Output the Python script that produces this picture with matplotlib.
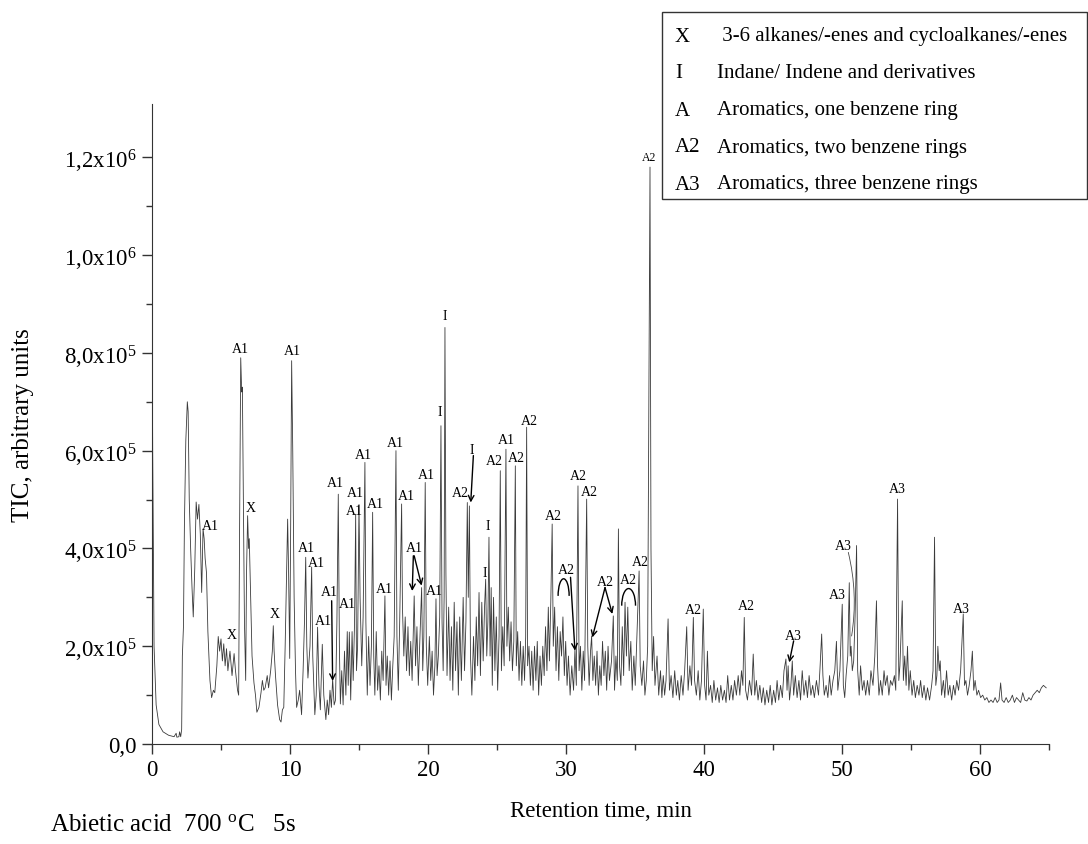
import numpy as np
import matplotlib.pyplot as plt
from matplotlib.patches import Arc, Rectangle

plt.rcParams['font.family'] = ['Liberation Serif', 'DejaVu Serif']
plt.rcParams['mathtext.default'] = 'regular'

# cromatograma: (tiempo min, TIC en unidades de 1e5)
tramo_0_6 = [(0.0, 9.3), (0.05, 6.0), (0.15, 2.0), (0.3, 0.8), (0.5, 0.4), (0.8, 0.25), (1.2, 0.18),
             (1.6, 0.15), (1.75, 0.22), (1.8, 0.14), (1.95, 0.15), (2.0, 0.25), (2.08, 0.15), (2.15, 0.3),
             (2.2, 1.8), (2.28, 2.4), (2.35, 4.5), (2.45, 6.2), (2.56, 7.0), (2.62, 6.8), (2.7, 5.0),
             (2.8, 4.0), (2.9, 3.2), (2.99, 2.6), (3.1, 3.6), (3.2, 4.95), (3.3, 4.6), (3.4, 4.9),
             (3.5, 4.3), (3.6, 3.1), (3.7, 4.4), (3.78, 4.2), (3.85, 3.8), (3.95, 3.5), (4.05, 2.3),
             (4.2, 1.3), (4.32, 0.95), (4.45, 1.1), (4.55, 1.05), (4.7, 1.6), (4.8, 2.2), (4.9, 1.9),
             (5.0, 2.15), (5.1, 1.7), (5.2, 2.05), (5.3, 1.6), (5.4, 1.95), (5.5, 1.5), (5.65, 1.9),
             (5.8, 1.4), (5.95, 1.85), (6.05, 1.5), (6.2, 1.1), (6.28, 1.0)]
tramo_6_10 = [(6.35, 4.5), (6.43, 7.9), (6.5, 7.2), (6.55, 7.3), (6.62, 5.0), (6.7, 2.5), (6.79, 1.3),
              (6.85, 3.5), (6.93, 4.67), (7.0, 4.0), (7.05, 4.2), (7.15, 3.0), (7.25, 1.8), (7.39, 1.25),
              (7.5, 1.0), (7.6, 0.65), (7.75, 0.75), (7.9, 1.05), (8.0, 1.3), (8.1, 1.1), (8.2, 1.15),
              (8.35, 1.4), (8.45, 1.15), (8.6, 1.5), (8.72, 1.9), (8.79, 2.42), (8.85, 1.9), (8.95, 1.4),
              (9.1, 0.8), (9.25, 0.5), (9.35, 0.45), (9.45, 0.7), (9.55, 0.75), (9.65, 2.0), (9.75, 3.5),
              (9.83, 4.6), (9.9, 3.5), (9.98, 1.75), (10.05, 4.5), (10.12, 7.84), (10.2, 6.0), (10.3, 3.0),
              (10.4, 1.5), (10.48, 0.75)]
tramo_10_13 = [(10.6, 0.9), (10.7, 1.1), (10.84, 0.6), (10.95, 1.5), (11.05, 2.5), (11.14, 3.82), (11.22, 2.0),
               (11.3, 1.35), (11.45, 2.0), (11.57, 3.62), (11.65, 1.8), (11.8, 0.6), (11.9, 1.0), (12.0, 2.39),
               (12.1, 1.2), (12.2, 0.7), (12.34, 2.04), (12.45, 1.0), (12.6, 0.5), (12.7, 0.9), (12.8, 0.6),
               (12.9, 1.1), (13.0, 0.75), (13.09, 1.33), (13.2, 0.8), (13.3, 0.9), (13.4, 2.5), (13.5, 5.11),
               (13.58, 2.0), (13.65, 0.82)]
tramo_13_21 = [(13.75, 1.5), (13.85, 0.8), (13.95, 1.9), (14.05, 1.0), (14.15, 2.3), (14.22, 1.2), (14.3, 2.29),
               (14.4, 0.9), (14.5, 2.3), (14.58, 1.3), (14.68, 2.5), (14.76, 4.7), (14.82, 1.5), (14.9, 2.0),
               (15.0, 4.9), (15.08, 3.0), (15.2, 1.6), (15.3, 2.6), (15.43, 5.76), (15.5, 2.5), (15.6, 1.0),
               (15.7, 2.2), (15.8, 1.2), (15.9, 2.0), (15.99, 4.74), (16.07, 1.8), (16.15, 1.0), (16.25, 2.3),
               (16.35, 1.1), (16.45, 1.6), (16.55, 0.9), (16.65, 1.9), (16.75, 1.3), (16.88, 3.03), (16.96, 1.2),
               (17.05, 1.8), (17.15, 1.0), (17.25, 1.7), (17.35, 0.9), (17.45, 1.6), (17.55, 2.2), (17.68, 6.0),
               (17.75, 2.2), (17.85, 1.1), (17.95, 2.5), (18.09, 4.91), (18.15, 2.8), (18.25, 1.8), (18.35, 2.6),
               (18.45, 1.5), (18.55, 2.4), (18.65, 1.4), (18.75, 2.1), (18.85, 1.3), (19.0, 3.03), (19.1, 1.6),
               (19.2, 2.4), (19.3, 1.2), (19.42, 2.2), (19.54, 3.2), (19.62, 1.5), (19.7, 2.2), (19.8, 5.35),
               (19.88, 2.0), (19.98, 1.2), (20.1, 2.2), (20.2, 1.3), (20.3, 1.9), (20.4, 1.0), (20.5, 1.6),
               (20.58, 2.97), (20.66, 1.4), (20.75, 1.8), (20.85, 2.6), (20.94, 6.51), (21.02, 2.5), (21.1, 1.5),
               (21.17, 3.0), (21.23, 8.52), (21.3, 3.5), (21.38, 1.4)]
tramo_21_36 = [(21.5, 2.8), (21.6, 1.3), (21.7, 2.4), (21.8, 1.1), (21.9, 2.9), (22.0, 1.5), (22.1, 2.5),
               (22.2, 1.0), (22.3, 2.6), (22.42, 1.3), (22.55, 3.0), (22.65, 1.5), (22.75, 2.5), (22.85, 4.94),
               (22.92, 3.0), (23.0, 4.87), (23.08, 1.8), (23.18, 1.0), (23.3, 2.2), (23.4, 1.3), (23.5, 2.6),
               (23.6, 1.6), (23.7, 3.1), (23.8, 1.4), (23.9, 2.9), (24.0, 1.7), (24.1, 2.8), (24.18, 3.37),
               (24.26, 1.8), (24.34, 2.5), (24.42, 4.23), (24.5, 1.8), (24.58, 3.2), (24.66, 1.2), (24.75, 3.0),
               (24.85, 1.5), (24.95, 2.6), (25.05, 1.1), (25.15, 2.2), (25.24, 5.59), (25.32, 1.5), (25.42, 2.4),
               (25.52, 1.6), (25.65, 6.03), (25.72, 2.0), (25.82, 2.8), (25.92, 1.7), (26.02, 2.5), (26.12, 1.5),
               (26.22, 2.1), (26.33, 5.69), (26.4, 1.6), (26.5, 2.3), (26.6, 1.3), (26.7, 2.1), (26.8, 1.2),
               (26.9, 2.0), (27.0, 1.3), (27.08, 2.2), (27.15, 6.48), (27.22, 1.6), (27.32, 2.0), (27.42, 1.2),
               (27.52, 1.9), (27.62, 1.1), (27.72, 2.0), (27.82, 1.3), (27.92, 2.1), (28.02, 1.0), (28.12, 1.8),
               (28.22, 1.2), (28.32, 2.0), (28.42, 1.4), (28.52, 2.4), (28.62, 1.5), (28.72, 2.8), (28.8, 1.7),
               (28.9, 2.9), (29.0, 4.5), (29.08, 2.0), (29.18, 2.8), (29.28, 1.5), (29.38, 2.4), (29.48, 1.3),
               (29.58, 2.3), (29.68, 1.8), (29.78, 2.6), (29.88, 1.4), (29.98, 2.1), (30.08, 1.2), (30.18, 1.8),
               (30.3, 1.0), (30.42, 1.6), (30.55, 1.1), (30.65, 1.94), (30.75, 1.2), (30.87, 5.28), (30.95, 1.5),
               (31.05, 2.0), (31.15, 1.1), (31.25, 1.9), (31.35, 1.3), (31.5, 5.01), (31.58, 2.0), (31.68, 1.2),
               (31.78, 1.9), (31.86, 2.21), (31.95, 1.3), (32.05, 1.8), (32.15, 1.2), (32.25, 1.9), (32.35, 1.0),
               (32.45, 1.6), (32.55, 1.2), (32.65, 2.1), (32.75, 1.4), (32.85, 1.9), (32.95, 1.1), (33.05, 2.0),
               (33.15, 1.3), (33.3, 1.7), (33.43, 2.62), (33.52, 1.1), (33.62, 1.8), (33.72, 1.3), (33.8, 4.4),
               (33.88, 1.6), (33.98, 1.2), (34.08, 2.4), (34.18, 1.4), (34.28, 2.9), (34.38, 1.8), (34.48, 2.8),
               (34.58, 1.5), (34.7, 2.1), (34.8, 1.1), (34.92, 1.8), (35.02, 1.2), (35.15, 2.3), (35.3, 3.54),
               (35.38, 1.6), (35.5, 1.2), (35.62, 1.7), (35.72, 1.0), (35.82, 1.3), (35.92, 2.0), (36.0, 6.5),
               (36.09, 11.8), (36.16, 4.0), (36.25, 1.5), (36.35, 2.2), (36.45, 1.2)]
tramo_36_48 = [(36.6, 1.8), (36.72, 1.0), (36.85, 1.5), (36.95, 0.95), (37.05, 1.4), (37.15, 1.0), (37.25, 1.3),
               (37.4, 2.56), (37.5, 1.1), (37.62, 1.4), (37.75, 0.95), (37.88, 1.5), (38.0, 1.0), (38.1, 1.3),
               (38.22, 0.9), (38.35, 1.4), (38.48, 1.0), (38.6, 1.5), (38.75, 2.4), (38.85, 1.1), (38.98, 1.6),
               (39.1, 1.2), (39.23, 2.59), (39.32, 1.3), (39.45, 1.0), (39.58, 1.5), (39.7, 0.9), (39.82, 1.3),
               (39.95, 2.76), (40.05, 1.2), (40.15, 0.9), (40.25, 1.9), (40.35, 1.0), (40.48, 1.2), (40.6, 0.85),
               (40.72, 1.3), (40.85, 0.9), (40.98, 1.15), (41.1, 0.85), (41.22, 1.2), (41.35, 0.9), (41.48, 1.1),
               (41.6, 0.85), (41.72, 1.4), (41.85, 0.9), (41.98, 1.2), (42.1, 0.9), (42.22, 1.3), (42.35, 1.0),
               (42.48, 1.4), (42.6, 1.0), (42.72, 1.5), (42.82, 1.2), (42.92, 2.59), (43.02, 1.1), (43.15, 0.9),
               (43.3, 1.3), (43.45, 1.0), (43.57, 1.84), (43.68, 1.0), (43.8, 1.3), (43.92, 0.9), (44.05, 1.2),
               (44.18, 0.85), (44.3, 1.15), (44.42, 0.8), (44.55, 1.1), (44.68, 0.85), (44.8, 1.2), (44.92, 0.8),
               (45.05, 1.1), (45.18, 0.85), (45.3, 1.3), (45.42, 0.9), (45.55, 1.2), (45.68, 0.95), (45.8, 1.5),
               (45.94, 1.74), (46.02, 1.1), (46.1, 1.6), (46.2, 0.9), (46.3, 1.2), (46.4, 1.7), (46.5, 1.0),
               (46.62, 1.4), (46.75, 0.95), (46.88, 1.3), (47.0, 0.9), (47.12, 1.5), (47.25, 1.0), (47.38, 1.3),
               (47.5, 0.95), (47.62, 1.4), (47.75, 1.0), (47.88, 1.2), (48.0, 0.95)]
tramo_48_65 = [(48.15, 1.3), (48.3, 1.0), (48.4, 1.5), (48.53, 2.25), (48.62, 1.4), (48.72, 1.0), (48.85, 1.2),
               (48.98, 0.95), (49.1, 1.4), (49.22, 1.0), (49.35, 1.3), (49.48, 1.5), (49.6, 2.1), (49.7, 1.1),
               (49.85, 1.5), (50.02, 2.86), (50.1, 1.2), (50.2, 0.95), (50.3, 1.4), (50.42, 1.8), (50.53, 3.3),
               (50.6, 1.8), (50.66, 2.0), (50.75, 1.5), (50.85, 1.7), (50.95, 2.6), (51.06, 4.06), (51.14, 1.5),
               (51.25, 1.0), (51.35, 1.6), (51.48, 1.1), (51.6, 1.3), (51.72, 1.0), (51.85, 1.3), (51.98, 1.0),
               (52.1, 1.5), (52.25, 1.2), (52.38, 1.8), (52.5, 2.93), (52.58, 1.6), (52.68, 1.0), (52.8, 1.3),
               (52.92, 1.0), (53.05, 1.5), (53.15, 1.2), (53.28, 1.4), (53.4, 1.0), (53.52, 1.3), (53.65, 1.2),
               (53.8, 1.4), (53.9, 1.1), (54.03, 5.01), (54.12, 1.3), (54.2, 1.6), (54.37, 2.93), (54.45, 1.3),
               (54.55, 1.8), (54.65, 1.2), (54.75, 2.0), (54.85, 1.1), (54.95, 1.5), (55.08, 1.0), (55.2, 1.3),
               (55.32, 0.95), (55.45, 1.2), (55.58, 1.0), (55.7, 1.3), (55.82, 0.95), (55.95, 1.2), (56.08, 0.9),
               (56.2, 1.15), (56.35, 0.9), (56.5, 1.2), (56.6, 1.5), (56.71, 4.23), (56.8, 1.2), (56.88, 1.4),
               (56.95, 2.0), (57.05, 1.5), (57.12, 1.7), (57.22, 1.0), (57.35, 1.3), (57.45, 0.95), (57.58, 1.5),
               (57.7, 1.0), (57.82, 1.2), (57.95, 0.9), (58.08, 1.2), (58.2, 1.0), (58.32, 1.3), (58.45, 1.1),
               (58.6, 1.5), (58.79, 2.66), (58.88, 1.2), (58.98, 1.3), (59.1, 1.0), (59.22, 1.2), (59.35, 1.5),
               (59.45, 1.9), (59.55, 1.1), (59.65, 1.3), (59.78, 1.0), (59.9, 1.1), (60.05, 0.95), (60.2, 1.0),
               (60.35, 0.9), (60.5, 0.95), (60.65, 0.85), (60.8, 0.9), (60.95, 0.85), (61.1, 0.95), (61.25, 0.85),
               (61.38, 0.9), (61.5, 1.25), (61.6, 0.9), (61.75, 0.85), (61.9, 0.95), (62.05, 0.85), (62.2, 0.9),
               (62.35, 1.0), (62.5, 0.85), (62.65, 0.95), (62.8, 0.9), (62.95, 0.85), (63.1, 1.05), (63.25, 0.9),
               (63.4, 0.88), (63.55, 0.95), (63.7, 0.9), (63.85, 1.0), (64.0, 1.05), (64.15, 1.1), (64.3, 1.05),
               (64.45, 1.15), (64.6, 1.2), (64.8, 1.15)]

# etiquetas de picos: (texto, tiempo, altura)
etiquetas = [("A1", 4.2, 4.46), ("X", 5.77, 2.25), ("A1", 6.38, 8.08), ("X", 7.15, 4.84), ("X", 8.91, 2.66),
             ("A1", 10.19, 8.04), ("A1", 11.21, 4.02), ("A1", 11.93, 3.72), ("A1", 12.42, 2.52),
             ("A1", 12.83, 3.11), ("A1", 13.26, 5.35), ("A1", 14.15, 2.88), ("A1", 14.64, 4.77),
             ("A1", 14.76, 5.15), ("A1", 15.32, 5.93), ("A1", 16.16, 4.91), ("A1", 16.81, 3.19),
             ("A1", 17.61, 6.17), ("A1", 18.41, 5.08), ("A1", 18.99, 4.02), ("A1", 19.86, 5.52),
             ("A1", 20.43, 3.15), ("I", 20.87, 6.8), ("I", 21.19, 8.76), ("A2", 22.32, 5.15), ("I", 23.21, 6.03),
             ("I", 24.32, 4.46), ("I", 24.13, 3.51), ("A2", 24.78, 5.79), ("A1", 25.7, 6.22), ("A2", 26.38, 5.86),
             ("A2", 27.34, 6.61), ("A2", 29.08, 4.68), ("A2", 30.0, 3.58), ("A2", 30.89, 5.49), ("A2", 31.67, 5.16),
             ("A2", 32.83, 3.33), ("A2", 34.51, 3.37), ("A2", 35.36, 3.74), ("A2", 36.0, 12.0), ("A2", 39.23, 2.75),
             ("A2", 43.09, 2.84), ("A3", 46.47, 2.23), ("A3", 49.66, 3.05), ("A3", 50.1, 4.06), ("A3", 54.03, 5.23),
             ("A3", 58.67, 2.78)]

# flechas: (origen, destino)
flechas = [((13.02, 2.93), (13.09, 1.29)), ((18.94, 3.85), (18.86, 3.13)), ((19.0, 3.85), (19.54, 3.24)),
           ((23.29, 5.9), (23.1, 4.94)), ((30.33, 3.41), (30.65, 1.91)), ((32.83, 3.2), (31.91, 2.18)),
           ((32.83, 3.2), (33.36, 2.66)), ((46.5, 2.11), (46.18, 1.67))]

# arcos sobre grupos de picos: (centro t, base, ancho, alto)
arcos = [(29.83, 3.03, 0.8, 0.7), (34.54, 2.83, 1.0, 0.7)]

leyenda_sim = ["X", "I", "A", "A2", "A3"]
leyenda_txt = [" 3-6 alkanes/-enes and cycloalkanes/-enes", "Indane/ Indene and derivatives",
               "Aromatics, one benzene ring", "Aromatics, two benzene rings", "Aromatics, three benzene rings"]

y_ticks = [0, 2, 4, 6, 8, 10, 12]
y_tick_labels = ["0,0", "2,0x10$^5$", "4,0x10$^5$", "6,0x10$^5$", "8,0x10$^5$", "1,0x10$^6$", "1,2x10$^6$"]
x_ticks = [0, 10, 20, 30, 40, 50, 60]

datos = np.array(tramo_0_6 + tramo_6_10 + tramo_10_13 + tramo_13_21 + tramo_21_36 + tramo_36_48 + tramo_48_65)
rt = datos[:, 0]
tic = datos[:, 1]

fig = plt.figure(figsize=(10.88, 8.45), dpi=100)
ax = fig.add_axes([0.1397, 0.1183, 0.8244, 0.7574])
ax.plot(rt, tic, color='#3a3a3a', lw=0.6)

ax.set_xlim(0, 65)
ax.set_ylim(0, 13.09)
ax.spines[['top', 'right']].set_visible(False)
ax.spines[['left', 'bottom']].set_color('#333333')
ax.set_xticks(x_ticks)
ax.set_xticks(np.arange(5, 66, 10), minor=True)
ax.set_yticks(y_ticks)
ax.set_yticklabels(y_tick_labels)
ax.set_yticks(np.arange(1, 13, 2), minor=True)
ax.tick_params(which='major', length=7, width=1, labelsize=16.5, pad=4, color='#333333')
ax.tick_params(which='minor', length=4, width=1, color='#333333')
ax.set_xlabel("Retention time, min", fontsize=16.5, labelpad=14)
ax.set_ylabel("TIC, arbitrary units", fontsize=18, labelpad=22)

for texto, x, y in etiquetas:
    fs = 8.5 if y > 11 else 10
    ax.text(x, y, texto, ha='center', va='center', fontsize=fs)

for (x0, y0), (x1, y1) in flechas:
    ax.annotate('', xy=(x1, y1), xytext=(x0, y0),
                arrowprops=dict(arrowstyle='->', lw=1, color='k', shrinkA=0, shrinkB=0))

# linea guia del A3 en ~50.5 min
ax.annotate('', xy=(50.7, 2.21), xytext=(50.46, 3.92),
            arrowprops=dict(arrowstyle='-', lw=0.6, color='#444444', shrinkA=0, shrinkB=0,
                            connectionstyle='arc3,rad=-0.1'))

for xc, yb, w, h in arcos:
    ax.add_patch(Arc((xc, yb), w, h, theta1=0, theta2=180, lw=1, color='k'))

fig.text(50 / 1088, 1 - 825 / 845, "Abietic acid  700 $^{o}$C   5s", fontsize=18, va='center', ha='left')

# cuadro de leyenda
fig.patches.append(Rectangle((662 / 1088, 1 - 200 / 845), 425 / 1088, 187 / 845, transform=fig.transFigure,
                             fill=False, lw=1, edgecolor='#333333'))
filas_y = [37, 73, 111, 148, 185]
for sim, txt, py in zip(leyenda_sim, leyenda_txt, filas_y):
    fig.text(675 / 1088, 1 - py / 845, sim, fontsize=15, va='center', ha='left')
    fig.text(717 / 1088, 1 - py / 845, txt, fontsize=15, va='center', ha='left')

fig.savefig("out.png", dpi=100)
